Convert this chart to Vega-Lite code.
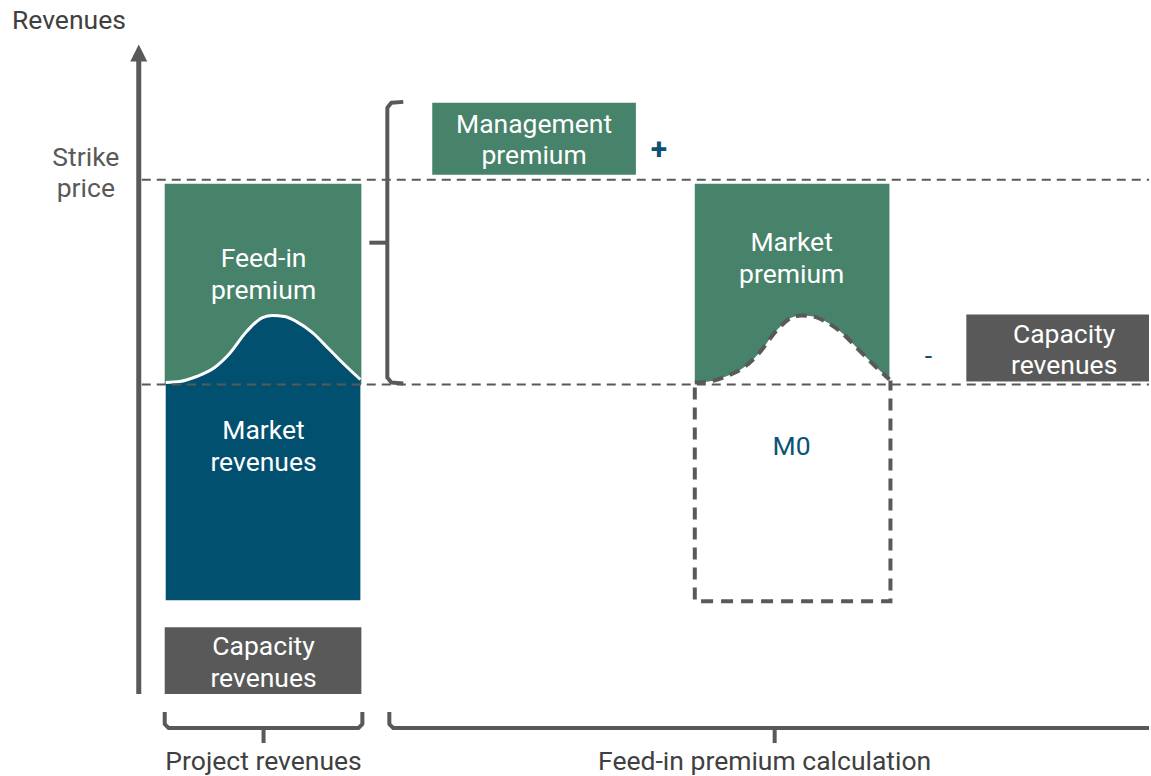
{
  "$schema": "https://vega.github.io/schema/vega-lite/v6.json",
  "width": 1151,
  "height": 776,
  "autosize": {"type": "fit", "contains": "padding"},
  "padding": 0,
  "background": "white",
  "config": {"view": {"stroke": null}, "text": {"font": "Roboto"}},
  "datasets": {
    "boxes": [
      {"kind": "premium", "x": 165, "x2": 362, "y": 184, "y2": 385},
      {"kind": "capacity", "x": 165, "x2": 362, "y": 628, "y2": 695},
      {"kind": "premium", "x": 433, "x2": 637, "y": 103, "y2": 175},
      {"kind": "capacity", "x": 968, "x2": 1151, "y": 315, "y2": 382}
    ],
    "curveL": [
      {"x": 166, "y": 383}, {"x": 180, "y": 382}, {"x": 197, "y": 377}, {"x": 215, "y": 368},
      {"x": 230, "y": 354}, {"x": 247, "y": 332}, {"x": 263, "y": 318}, {"x": 273, "y": 316},
      {"x": 285, "y": 317}, {"x": 297, "y": 322}, {"x": 313, "y": 333}, {"x": 330, "y": 350},
      {"x": 347, "y": 367}, {"x": 361, "y": 380}
    ],
    "curveR": [
      {"x": 696, "y": 383}, {"x": 710, "y": 382}, {"x": 727, "y": 377}, {"x": 745, "y": 368},
      {"x": 760, "y": 354}, {"x": 777, "y": 332}, {"x": 793, "y": 318}, {"x": 803, "y": 316},
      {"x": 815, "y": 317}, {"x": 827, "y": 322}, {"x": 843, "y": 333}, {"x": 860, "y": 350},
      {"x": 877, "y": 367}, {"x": 891, "y": 380}
    ],
    "guides": [
      {"x": 142, "x2": 1151, "y": 180},
      {"x": 142, "x2": 1151, "y": 385}
    ],
    "m0box": [
      {"o": 1, "x": 696, "y": 388}, {"o": 2, "x": 696, "y": 602},
      {"o": 3, "x": 892, "y": 602}, {"o": 4, "x": 892, "y": 381}
    ],
    "braces": [
      {"id": "b1", "o": 1, "x": 165, "y": 713}, {"id": "b1", "o": 2, "x": 165, "y": 725},
      {"id": "b1", "o": 3, "x": 169, "y": 729}, {"id": "b1", "o": 4, "x": 359, "y": 729},
      {"id": "b1", "o": 5, "x": 363, "y": 725}, {"id": "b1", "o": 6, "x": 363, "y": 713},
      {"id": "t1", "o": 1, "x": 264, "y": 729}, {"id": "t1", "o": 2, "x": 264, "y": 744},
      {"id": "b2", "o": 1, "x": 390, "y": 713}, {"id": "b2", "o": 2, "x": 390, "y": 725},
      {"id": "b2", "o": 3, "x": 394, "y": 729}, {"id": "b2", "o": 4, "x": 1151, "y": 729},
      {"id": "t2", "o": 1, "x": 776, "y": 729}, {"id": "t2", "o": 2, "x": 776, "y": 744},
      {"id": "b3", "o": 1, "x": 404, "y": 102}, {"id": "b3", "o": 2, "x": 392, "y": 103},
      {"id": "b3", "o": 3, "x": 388, "y": 108}, {"id": "b3", "o": 4, "x": 388, "y": 378},
      {"id": "b3", "o": 5, "x": 392, "y": 383}, {"id": "b3", "o": 6, "x": 404, "y": 384},
      {"id": "t3", "o": 1, "x": 370, "y": 243}, {"id": "t3", "o": 2, "x": 388, "y": 243}
    ],
    "axisLine": [
      {"o": 1, "x": 139, "y": 695}, {"o": 2, "x": 139, "y": 58}
    ],
    "arrowHead": [{"x": 139, "y": 53}],
    "whiteText": [
      {"t": "Feed-in", "x": 264, "y": 259}, {"t": "premium", "x": 264, "y": 291},
      {"t": "Market", "x": 264, "y": 432}, {"t": "revenues", "x": 264, "y": 464},
      {"t": "Capacity", "x": 264, "y": 648}, {"t": "revenues", "x": 264, "y": 680},
      {"t": "Management", "x": 535, "y": 125}, {"t": "premium", "x": 535, "y": 156},
      {"t": "Market", "x": 793, "y": 243}, {"t": "premium", "x": 793, "y": 275},
      {"t": "Capacity", "x": 1066, "y": 335}, {"t": "revenues", "x": 1066, "y": 366}
    ],
    "darkText": [
      {"t": "Project revenues", "x": 264, "y": 763},
      {"t": "Feed-in premium calculation", "x": 766, "y": 763}
    ],
    "titleText": [{"t": "Revenues", "x": 12, "y": 21}],
    "strikeText": [{"t": "Strike", "x": 86, "y": 158}, {"t": "price", "x": 86, "y": 189}],
    "blueText": [
      {"t": "M0", "x": 793, "y": 448},
      {"t": "-", "x": 930, "y": 357}
    ],
    "plusText": [{"t": "+", "x": 660, "y": 150}]
  },
  "layer": [
    {
      "data": {"name": "boxes"},
      "mark": {"type": "rect"},
      "encoding": {
        "x": {"field": "x", "type": "quantitative", "scale": {"domain": [0, 1151], "nice": false, "zero": false}, "axis": null},
        "x2": {"field": "x2"},
        "y": {"field": "y", "type": "quantitative", "scale": {"domain": [776, 0], "nice": false, "zero": false}, "axis": null},
        "y2": {"field": "y2"},
        "color": {"field": "kind", "type": "nominal", "scale": {"domain": ["premium", "capacity"], "range": ["#47826A", "#595959"]}, "legend": null}
      }
    },
    {
      "data": {"name": "curveL"},
      "mark": {"type": "area", "interpolate": "monotone", "color": "#02506F"},
      "encoding": {
        "x": {"field": "x", "type": "quantitative", "scale": {"domain": [0, 1151], "nice": false, "zero": false}, "axis": null},
        "y": {"field": "y", "type": "quantitative", "scale": {"domain": [776, 0], "nice": false, "zero": false}, "axis": null},
        "y2": {"datum": 601}
      }
    },
    {
      "data": {"name": "curveL"},
      "mark": {"type": "line", "interpolate": "monotone", "color": "white", "strokeWidth": 3},
      "encoding": {
        "x": {"field": "x", "type": "quantitative", "scale": {"domain": [0, 1151], "nice": false, "zero": false}, "axis": null},
        "y": {"field": "y", "type": "quantitative", "scale": {"domain": [776, 0], "nice": false, "zero": false}, "axis": null}
      }
    },
    {
      "data": {"name": "curveR"},
      "mark": {"type": "area", "interpolate": "monotone", "color": "#47826A"},
      "encoding": {
        "x": {"field": "x", "type": "quantitative", "scale": {"domain": [0, 1151], "nice": false, "zero": false}, "axis": null},
        "y": {"field": "y", "type": "quantitative", "scale": {"domain": [776, 0], "nice": false, "zero": false}, "axis": null},
        "y2": {"datum": 184}
      }
    },
    {
      "data": {"name": "guides"},
      "mark": {"type": "rule", "color": "#595959", "strokeWidth": 2, "strokeDash": [9, 6]},
      "encoding": {
        "x": {"field": "x", "type": "quantitative", "scale": {"domain": [0, 1151], "nice": false, "zero": false}, "axis": null},
        "x2": {"field": "x2"},
        "y": {"field": "y", "type": "quantitative", "scale": {"domain": [776, 0], "nice": false, "zero": false}, "axis": null}
      }
    },
    {
      "data": {"name": "curveR"},
      "mark": {"type": "line", "interpolate": "monotone", "color": "#595959", "strokeWidth": 4, "strokeDash": [11, 7]},
      "encoding": {
        "x": {"field": "x", "type": "quantitative", "scale": {"domain": [0, 1151], "nice": false, "zero": false}, "axis": null},
        "y": {"field": "y", "type": "quantitative", "scale": {"domain": [776, 0], "nice": false, "zero": false}, "axis": null}
      }
    },
    {
      "data": {"name": "m0box"},
      "mark": {"type": "line", "color": "#595959", "strokeWidth": 4, "strokeDash": [12, 8]},
      "encoding": {
        "x": {"field": "x", "type": "quantitative", "scale": {"domain": [0, 1151], "nice": false, "zero": false}, "axis": null},
        "y": {"field": "y", "type": "quantitative", "scale": {"domain": [776, 0], "nice": false, "zero": false}, "axis": null},
        "order": {"field": "o"}
      }
    },
    {
      "data": {"name": "braces"},
      "mark": {"type": "line", "color": "#595959", "strokeWidth": 4, "strokeJoin": "round"},
      "encoding": {
        "x": {"field": "x", "type": "quantitative", "scale": {"domain": [0, 1151], "nice": false, "zero": false}, "axis": null},
        "y": {"field": "y", "type": "quantitative", "scale": {"domain": [776, 0], "nice": false, "zero": false}, "axis": null},
        "detail": {"field": "id"},
        "order": {"field": "o"}
      }
    },
    {
      "data": {"name": "axisLine"},
      "mark": {"type": "line", "color": "#595959", "strokeWidth": 5},
      "encoding": {
        "x": {"field": "x", "type": "quantitative", "scale": {"domain": [0, 1151], "nice": false, "zero": false}, "axis": null},
        "y": {"field": "y", "type": "quantitative", "scale": {"domain": [776, 0], "nice": false, "zero": false}, "axis": null},
        "order": {"field": "o"}
      }
    },
    {
      "data": {"name": "arrowHead"},
      "mark": {"type": "point", "shape": "M0,-1L1,1L-1,1Z", "filled": true, "color": "#595959", "size": 290, "opacity": 1},
      "encoding": {
        "x": {"field": "x", "type": "quantitative", "scale": {"domain": [0, 1151], "nice": false, "zero": false}, "axis": null},
        "y": {"field": "y", "type": "quantitative", "scale": {"domain": [776, 0], "nice": false, "zero": false}, "axis": null}
      }
    },
    {
      "data": {"name": "whiteText"},
      "mark": {"type": "text", "color": "white", "fontSize": 26.5, "align": "center", "baseline": "middle"},
      "encoding": {
        "x": {"field": "x", "type": "quantitative", "scale": {"domain": [0, 1151], "nice": false, "zero": false}, "axis": null},
        "y": {"field": "y", "type": "quantitative", "scale": {"domain": [776, 0], "nice": false, "zero": false}, "axis": null},
        "text": {"field": "t"}
      }
    },
    {
      "data": {"name": "darkText"},
      "mark": {"type": "text", "color": "#404040", "fontSize": 26.5, "align": "center", "baseline": "middle"},
      "encoding": {
        "x": {"field": "x", "type": "quantitative", "scale": {"domain": [0, 1151], "nice": false, "zero": false}, "axis": null},
        "y": {"field": "y", "type": "quantitative", "scale": {"domain": [776, 0], "nice": false, "zero": false}, "axis": null},
        "text": {"field": "t"}
      }
    },
    {
      "data": {"name": "titleText"},
      "mark": {"type": "text", "color": "#404040", "fontSize": 26.5, "align": "left", "baseline": "middle"},
      "encoding": {
        "x": {"field": "x", "type": "quantitative", "scale": {"domain": [0, 1151], "nice": false, "zero": false}, "axis": null},
        "y": {"field": "y", "type": "quantitative", "scale": {"domain": [776, 0], "nice": false, "zero": false}, "axis": null},
        "text": {"field": "t"}
      }
    },
    {
      "data": {"name": "strikeText"},
      "mark": {"type": "text", "color": "#595959", "fontSize": 26.5, "align": "center", "baseline": "middle"},
      "encoding": {
        "x": {"field": "x", "type": "quantitative", "scale": {"domain": [0, 1151], "nice": false, "zero": false}, "axis": null},
        "y": {"field": "y", "type": "quantitative", "scale": {"domain": [776, 0], "nice": false, "zero": false}, "axis": null},
        "text": {"field": "t"}
      }
    },
    {
      "data": {"name": "blueText"},
      "mark": {"type": "text", "color": "#0B5275", "fontSize": 26.5, "align": "center", "baseline": "middle"},
      "encoding": {
        "x": {"field": "x", "type": "quantitative", "scale": {"domain": [0, 1151], "nice": false, "zero": false}, "axis": null},
        "y": {"field": "y", "type": "quantitative", "scale": {"domain": [776, 0], "nice": false, "zero": false}, "axis": null},
        "text": {"field": "t"}
      }
    },
    {
      "data": {"name": "plusText"},
      "mark": {"type": "text", "color": "#0B5275", "fontSize": 30, "fontWeight": "bold", "align": "center", "baseline": "middle"},
      "encoding": {
        "x": {"field": "x", "type": "quantitative", "scale": {"domain": [0, 1151], "nice": false, "zero": false}, "axis": null},
        "y": {"field": "y", "type": "quantitative", "scale": {"domain": [776, 0], "nice": false, "zero": false}, "axis": null},
        "text": {"field": "t"}
      }
    }
  ]
}
